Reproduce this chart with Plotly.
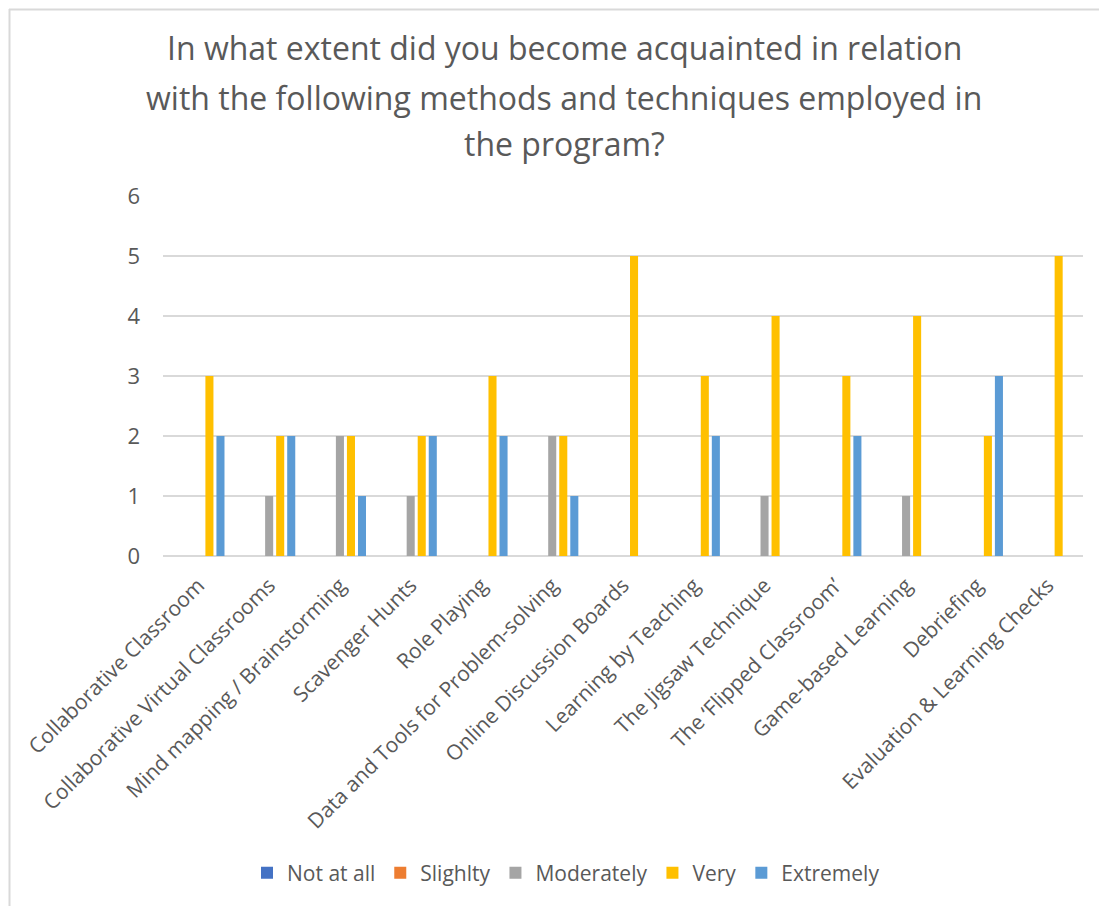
import plotly.graph_objects as go

categories = [
    "Collaborative Classroom",
    "Collaborative Virtual Classrooms",
    "Mind mapping / Brainstorming",
    "Scavenger Hunts",
    "Role Playing",
    "Data and Tools for Problem-solving",
    "Online Discussion Boards",
    "Learning by Teaching",
    "The Jigsaw Technique",
    "The \u2018Flipped Classroom\u2019",
    "Game-based Learning",
    "Debriefing",
    "Evaluation & Learning Checks",
]

not_at_all = [0, 0, 0, 0, 0, 0, 0, 0, 0, 0, 0, 0, 0]
slightly = [0, 0, 0, 0, 0, 0, 0, 0, 0, 0, 0, 0, 0]
moderately = [0, 1, 2, 1, 0, 2, 0, 0, 1, 0, 1, 0, 0]
very = [3, 2, 2, 2, 3, 2, 5, 3, 4, 3, 4, 2, 5]
extremely = [2, 2, 1, 2, 2, 1, 0, 2, 0, 2, 0, 3, 0]

series_names = ["Not at all", "Slighlty", "Moderately", "Very", "Extremely"]
series_values = [not_at_all, slightly, moderately, very, extremely]
colors = ["#4472C4", "#ED7D31", "#A5A5A5", "#FFC000", "#5B9BD5"]

title_lines = [
    "In what extent did you become acquainted in relation",
    "with the following methods and techniques employed in",
    "the program?",
]

OFF = 8  # page body margin
W, H = 1099, 898
L, T = 163 - OFF, 196 - OFF
R = W - (1083 - OFF)
B = H - (556 - OFF)
pw, ph = W - L - R, H - T - B

def px_to_paper_x(x):
    return (x - OFF - L) / pw

def px_to_paper_y(y):
    return (H - B - (y - OFF)) / ph

FONT = "Open Sans"
TXT = "#595959"

fig = go.Figure()
for name, vals, col in zip(series_names, series_values, colors):
    fig.add_trace(go.Bar(
        name=name, x=categories, y=vals,
        marker=dict(color=col, line=dict(width=0)),
    ))

annotations = []
for line, yy in zip(title_lines, [48, 97, 143]):
    annotations.append(dict(
        text=line, xref="paper", yref="paper",
        x=px_to_paper_x(564), y=px_to_paper_y(yy),
        xanchor="center", yanchor="middle", showarrow=False,
        font=dict(family=FONT, size=32, color=TXT),
    ))

border = dict(color="#D9D9D9", width=2)
fig.update_layout(
    width=W, height=H,
    margin=dict(l=L, r=R, t=T, b=B, autoexpand=False),
    paper_bgcolor="white", plot_bgcolor="white",
    barmode="group", bargap=0.22, bargroupgap=0.27,
    font=dict(family=FONT, color=TXT),
    annotations=annotations,
    showlegend=True,
    legend=dict(
        orientation="h", x=px_to_paper_x(566), y=px_to_paper_y(873),
        xanchor="center", yanchor="middle",
        font=dict(family=FONT, size=21, color=TXT),
        traceorder="normal",
    ),
    shapes=[
        dict(type="line", xref="paper", yref="paper",
             x0=px_to_paper_x(9), x1=px_to_paper_x(1120),
             y0=px_to_paper_y(9.5), y1=px_to_paper_y(9.5),
             line=border, layer="below"),
        dict(type="line", xref="paper", yref="paper",
             x0=px_to_paper_x(9.5), x1=px_to_paper_x(9.5),
             y0=px_to_paper_y(9), y1=px_to_paper_y(920),
             line=border, layer="below"),
    ],
)

fig.update_yaxes(
    range=[0, 6], dtick=1, tick0=0,
    showgrid=True, gridcolor="#D9D9D9", gridwidth=1.5,
    zeroline=True, zerolinecolor="#D9D9D9", zerolinewidth=1.5,
    showline=False, ticks="",
    tickfont=dict(family=FONT, size=22, color=TXT),
    ticklabelstandoff=22,
)
fig.update_xaxes(
    tickangle=-45, showgrid=False, showline=False, ticks="",
    tickfont=dict(family=FONT, size=21, color=TXT),
    ticklabelstandoff=12,
)

fig.write_html("out.html")
